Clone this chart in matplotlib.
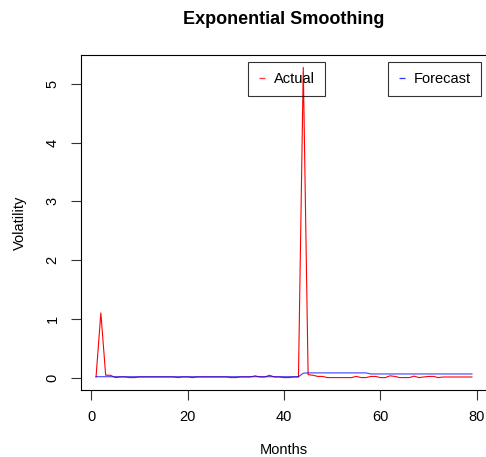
import matplotlib
matplotlib.use("Agg")
import matplotlib.pyplot as plt
from matplotlib.lines import Line2D
import numpy as np

plt.rcParams['font.family'] = ['Liberation Sans', 'DejaVu Sans']

months = list(range(1, 80))
actual = [0.01, 1.10, 0.04, 0.04, 0.00, 0.01, 0.01, 0.00, 0.00, 0.01,
          0.01, 0.01, 0.01, 0.01, 0.01, 0.01, 0.01, 0.00, 0.01, 0.01,
          0.00, 0.01, 0.01, 0.01, 0.01, 0.01, 0.01, 0.01, 0.00, 0.00,
          0.01, 0.01, 0.01, 0.03, 0.01, 0.01, 0.04, 0.01, 0.01, 0.00,
          0.00, 0.01, 0.01, 5.28, 0.05, 0.04, 0.02, 0.02, 0.00, 0.00,
          0.00, 0.00, 0.00, 0.00, 0.02, 0.00, 0.00, 0.02, 0.02, 0.00,
          0.00, 0.03, 0.02, 0.00, 0.00, 0.00, 0.025, 0.00, 0.01, 0.02,
          0.02, 0.00, 0.01, 0.01, 0.01, 0.01, 0.01, 0.01, 0.01]
forecast = [0.015] * 43 + [0.075] + [0.08] * 13 + [0.062] * 22

xticks = [0, 20, 40, 60, 80]
yticks = [0, 1, 2, 3, 4, 5]

W, H = 486, 457
fig = plt.figure(figsize=(W / 100, H / 100), dpi=100)
L, R, B, T = 81, 487, 390, 55
ax = fig.add_axes([L / W, 1 - B / H, (R - L) / W, (B - T) / H])

ax.plot(months, actual, color='red', lw=0.8)
ax.plot(months, forecast, color='blue', lw=0.8, alpha=0.75)

xr = max(months) - min(months)
ax.set_xlim(min(months) - 0.04 * xr, max(months) + 0.04 * xr)
yr = max(actual) - min(actual)
ax.set_ylim(min(actual) - 0.04 * yr, max(actual) + 0.04 * yr)

ax.set_xticks(xticks)
ax.set_yticks(yticks)
ax.tick_params(axis='both', direction='out', length=7.5, width=0.8, labelsize=10.5, color='#333333')
ax.tick_params(axis='x', pad=7)
ax.tick_params(axis='y', pad=8)
for lab in ax.get_yticklabels():
    lab.set_rotation(90)
    lab.set_va('center')
for s in ax.spines.values():
    s.set_linewidth(0.8)
    s.set_color('black')

ax.set_xlabel('Months', fontsize=10.5)
ax.xaxis.set_label_coords(0.5, (B - 450) / (B - T))
ax.xaxis.label.set_va('center')
ax.set_ylabel('Volatility', fontsize=10.5)
ax.yaxis.set_label_coords((20 - L) / (R - L), 0.5)
ax.yaxis.label.set_va('center')

ax.text(0.5, (B - 20) / (B - T), 'Exponential Smoothing', transform=ax.transAxes,
        ha='center', va='center', fontsize=13, fontweight='bold')

def make_legend(color, label, x0, y0):
    h = Line2D([], [], color=color, marker='_', linestyle='none', markersize=4,
               markeredgewidth=0.9, markeredgecolor=color, alpha=0.8)
    leg = ax.legend([h], [label], loc='upper left', bbox_to_anchor=(x0 / W, 1 - y0 / H),
                    bbox_transform=fig.transFigure, borderaxespad=0, fontsize=10.5,
                    frameon=True, fancybox=False, borderpad=0.68, handlelength=0.5,
                    handletextpad=0.6, edgecolor='black', facecolor='none', framealpha=None)
    leg.get_frame().set_linewidth(0.8)
    return leg

leg1 = make_legend('red', 'Actual', 248, 62)
ax.add_artist(leg1)
leg2 = make_legend('blue', 'Forecast', 388, 62)

fig.savefig('out.png', dpi=100)
